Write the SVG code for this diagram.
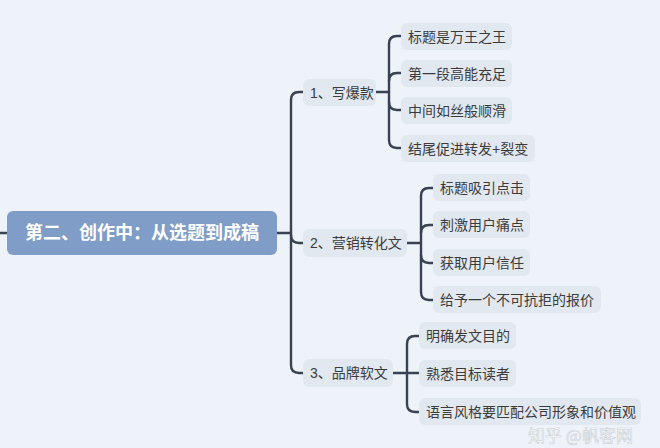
<svg xmlns="http://www.w3.org/2000/svg" width="660" height="448" viewBox="0 0 660 448">
<style>
.bg{fill:#EEF3F9}
.root rect{fill:#7F9DC6}
.root text{fill:#ffffff;font-family:"Liberation Sans","Noto Sans CJK SC",sans-serif;font-size:18px;font-weight:bold;text-anchor:middle;dominant-baseline:central}
.n rect{fill:#E2E8F0}
.n text{fill:#3b3b3b;font-family:"Liberation Sans","Noto Sans CJK SC",sans-serif;font-size:14px;dominant-baseline:central}
.c path{fill:none;stroke:#384250;stroke-width:2.4;stroke-linecap:round}
.wm{fill:#ffffff;fill-opacity:0.85;stroke:#9aa3ad;stroke-opacity:0.5;stroke-width:0.6;font-family:"Noto Sans CJK SC",sans-serif;font-size:17px}
</style>
<rect class="bg" x="0" y="0" width="660" height="448"/>
<g id="connectors" class="c">
<path d="M0 233 H7"/>
<path d="M277 233 H291"/>
<path d="M303 92 H299 Q291 92 291 100 V365 Q291 373 299 373 H303"/>
<path d="M291 235 Q291 243 299 243 H303"/>
<path d="M376 92 H389"/>
<path d="M401 36 H397 Q389 36 389 44 V140 Q389 148 397 148 H401"/>
<path d="M389 81 Q389 73 397 73 H401"/>
<path d="M389 102 Q389 110 397 110 H401"/>
<path d="M407 243 H421"/>
<path d="M433 188 H429 Q421 188 421 196 V292 Q421 300 429 300 H433"/>
<path d="M421 233 Q421 225 429 225 H433"/>
<path d="M421 255 Q421 263 429 263 H433"/>
<path d="M393 373 H407"/>
<path d="M419 336 H415 Q407 336 407 344 V404 Q407 412 415 412 H419"/>
<path d="M407 373 H419"/>
</g>
<g id="root" class="root"><rect x="7" y="211" width="270" height="44" rx="6"/><text x="142" y="233">第二、创作中：从选题到成稿</text></g>
<g id="b1" class="n"><rect x="303" y="79" width="73" height="27" rx="6"/><text x="310" y="92.5">1、写爆款</text></g>
<g id="b2" class="n"><rect x="303" y="229" width="104" height="28" rx="6"/><text x="310" y="243">2、营销转化文</text></g>
<g id="b3" class="n"><rect x="303" y="359" width="90" height="28" rx="6"/><text x="310" y="373">3、品牌软文</text></g>
<g id="c11" class="n"><rect x="401" y="23" width="111" height="27" rx="6"/><text x="408" y="36.5">标题是万王之王</text></g>
<g id="c12" class="n"><rect x="401" y="60" width="111" height="27" rx="6"/><text x="408" y="73.5">第一段高能充足</text></g>
<g id="c13" class="n"><rect x="401" y="97" width="111" height="27" rx="6"/><text x="408" y="110.5">中间如丝般顺滑</text></g>
<g id="c14" class="n"><rect x="401" y="135" width="134" height="27" rx="6"/><text x="408" y="148.5">结尾促进转发+裂变</text></g>
<g id="c21" class="n"><rect x="433" y="174" width="97" height="27" rx="6"/><text x="440" y="187.5">标题吸引点击</text></g>
<g id="c22" class="n"><rect x="433" y="211" width="97" height="27" rx="6"/><text x="440" y="224.5">刺激用户痛点</text></g>
<g id="c23" class="n"><rect x="433" y="249" width="97" height="27" rx="6"/><text x="440" y="262.5">获取用户信任</text></g>
<g id="c24" class="n"><rect x="433" y="286" width="168" height="27" rx="6"/><text x="440" y="299.5">给予一个不可抗拒的报价</text></g>
<g id="c31" class="n"><rect x="419" y="322" width="97" height="27" rx="6"/><text x="426" y="335.5">明确发文目的</text></g>
<g id="c32" class="n"><rect x="419" y="360" width="97" height="27" rx="6"/><text x="426" y="373.5">熟悉目标读者</text></g>
<g id="c33" class="n"><rect x="419" y="398" width="222" height="27" rx="6"/><text x="426" y="411.5">语言风格要匹配公司形象和价值观</text></g>
<text class="wm" x="528" y="442">知乎 @帆客网</text>
</svg>
